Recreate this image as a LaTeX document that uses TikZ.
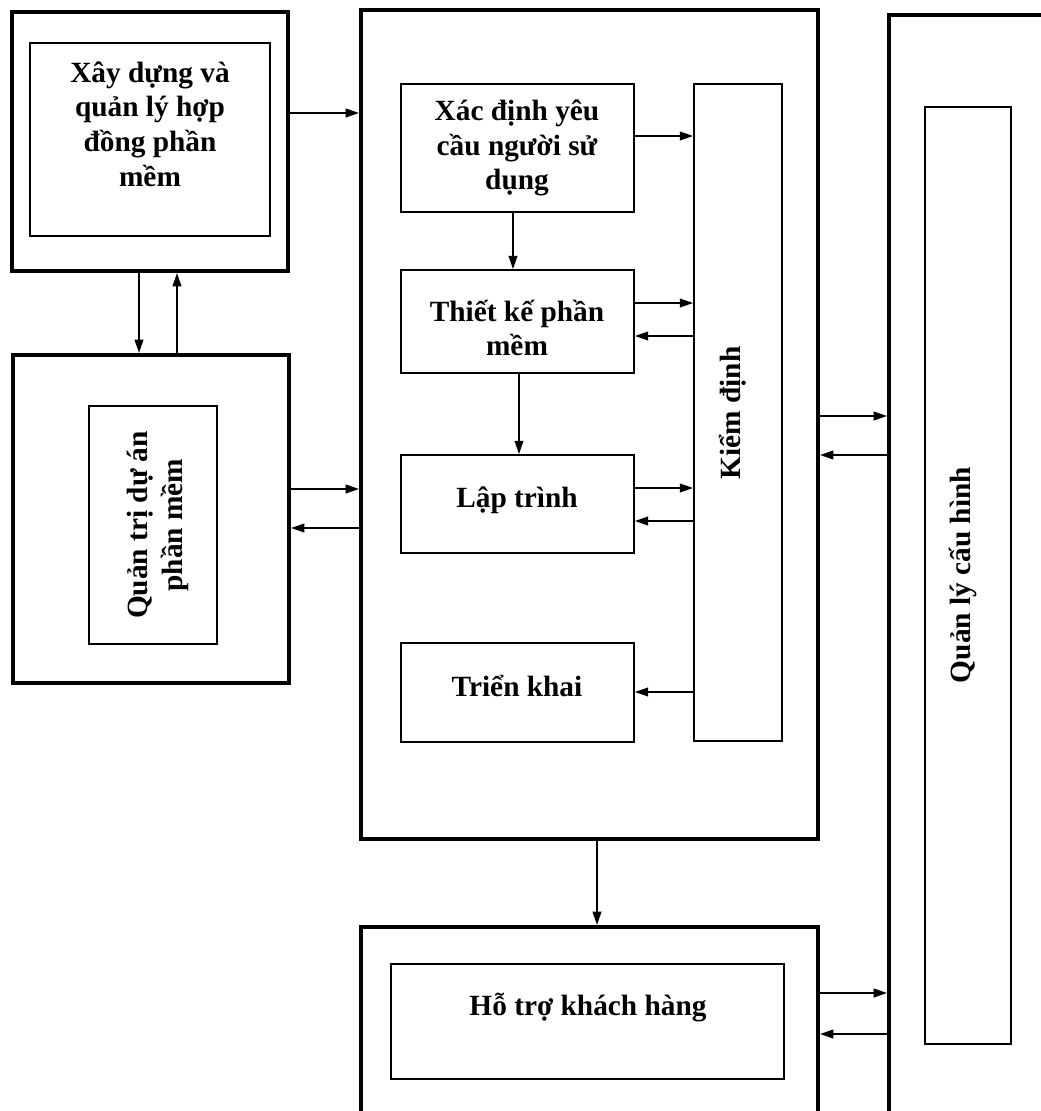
\documentclass[tikz,border=0pt]{standalone}
\usepackage{fontspec}
\setmainfont{Liberation Serif}
\usetikzlibrary{arrows.meta,fit}

\tikzset{
  frame/.style={draw,line width=3pt,inner sep=0pt},
  box/.style={draw,line width=1.3pt,inner sep=0pt},
  lbl/.style={align=center,inner sep=0pt,font=\fontsize{22}{26}\selectfont\bfseries},
  arr/.style={-{Triangle[length=10pt,width=6.5pt]},line width=1.4pt},
}

\begin{document}
\begin{tikzpicture}[x=0.75pt,y=-0.75pt]
  \useasboundingbox (0,0) rectangle (1041,1111);
  \clip (0,0) rectangle (1041,1111);

  % contract
  \node[frame,fit={(12,12) (288,271)}] (contractout) {};
  \node[box,fit={(30,43) (270,236)}] (contract) {};
  \node[lbl] (contracttxt) at (150,124) {Xây dựng và\\quản lý hợp\\đồng phần\\mềm};

  % project management
  \node[frame,fit={(13,355) (289,683)}] (pmout) {};
  \node[box,fit={(89,406) (217,644)}] (pm) {};
  \node[lbl,rotate=90] (pmtxt) at (158,525) {Quản trị dự án\\phần mềm};

  % development
  \node[frame,fit={(361,10) (818,839)}] (main) {};
  \node[box,fit={(401,84) (634,212)}] (req) {};
  \node[lbl] (reqtxt) at (517,148) {Xác định yêu\\cầu người sử\\dụng};
  \node[box,fit={(401,270) (634,373)}] (design) {};
  \node[lbl] (designtxt) at (517,328) {Thiết kế phần\\mềm};
  \node[box,fit={(401,455) (634,553)}] (code) {};
  \node[lbl] (codetxt) at (517,500) {Lập trình};
  \node[box,fit={(401,643) (634,742)}] (deploy) {};
  \node[lbl] (deploytxt) at (517,686) {Triển khai};
  \node[box,fit={(694,84) (782,741)}] (test) {};
  \node[lbl,rotate=90] (testtxt) at (733,413) {Kiểm định};

  % configuration
  \node[frame,fit={(889,15) (1090,1160)}] (cfgout) {};
  \node[box,fit={(925,107) (1011,1044)}] (cfg) {};
  \node[lbl,rotate=90] (cfgtxt) at (963,575) {Quản lý cấu hình};

  % support
  \node[frame,fit={(361,927) (818,1160)}] (supportout) {};
  \node[box,fit={(391,964) (784,1079)}] (support) {};
  \node[lbl] (supporttxt) at (588,1008) {Hỗ trợ khách hàng};

  % links
  \draw[arr] (contractout.east |- 0,113) -- (main.west |- 0,113);
  \draw[arr] (contractout.south -| 139,0) -- (pmout.north -| 139,0);
  \draw[arr] (pmout.north -| 177,0) -- (contractout.south -| 177,0);
  \draw[arr] (pmout.east |- 0,489) -- (main.west |- 0,489);
  \draw[arr] (main.west |- 0,528) -- (pmout.east |- 0,528);

  \draw[arr] (req.east |- 0,136) -- (test.west |- 0,136);
  \draw[arr] (req.south -| 513,0) -- (design.north -| 513,0);
  \draw[arr] (design.east |- 0,303) -- (test.west |- 0,303);
  \draw[arr] (test.west |- 0,336) -- (design.east |- 0,336);
  \draw[arr] (design.south -| 519,0) -- (code.north -| 519,0);
  \draw[arr] (code.east |- 0,488) -- (test.west |- 0,488);
  \draw[arr] (test.west |- 0,521) -- (code.east |- 0,521);
  \draw[arr] (test.west |- 0,692) -- (deploy.east |- 0,692);

  \draw[arr] (main.east |- 0,416) -- (cfgout.west |- 0,416);
  \draw[arr] (cfgout.west |- 0,455) -- (main.east |- 0,455);
  \draw[arr] (main.south -| 597,0) -- (supportout.north -| 597,0);
  \draw[arr] (supportout.east |- 0,993) -- (cfgout.west |- 0,993);
  \draw[arr] (cfgout.west |- 0,1034) -- (supportout.east |- 0,1034);
\end{tikzpicture}
\end{document}
